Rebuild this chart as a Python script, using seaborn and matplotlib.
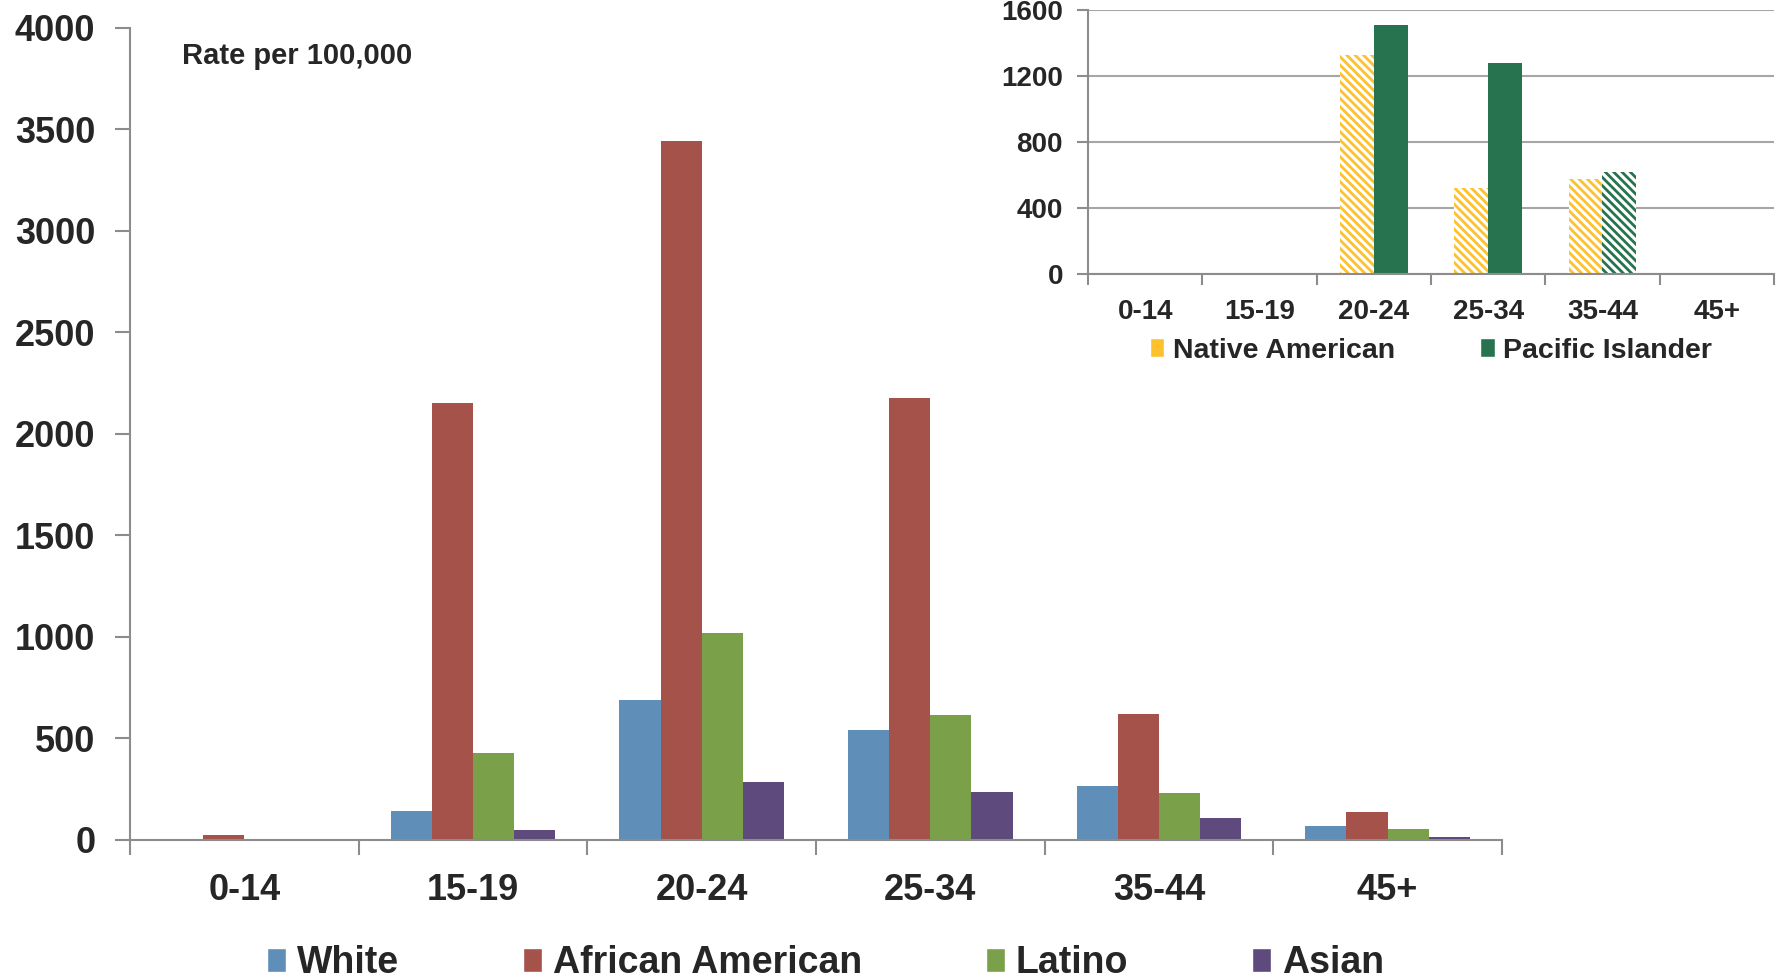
import matplotlib
matplotlib.use("Agg")
import matplotlib.pyplot as plt
from matplotlib.patches import Patch
import numpy as np
import pandas as pd
import seaborn as sns

sns.set_style("white")
plt.rcParams["font.family"] = ["Liberation Sans", "DejaVu Sans"]
plt.rcParams["font.weight"] = "bold"
plt.rcParams["hatch.linewidth"] = 2.0

# %% data
ages = ["0-14", "15-19", "20-24", "25-34", "35-44", "45+"]
white = [2, 145, 687, 542, 268, 67]
african_american = [25, 2150, 3441, 2179, 620, 140]
latino = [4, 430, 1017, 615, 229, 56]
asian = [1, 50, 285, 235, 106, 15]

native_american = [0, 0, 1325, 522, 577, 0]
pacific_islander = [0, 0, 1511, 1277, 618, 0]

main_groups = ["White", "African American", "Latino", "Asian"]
main_colors = ["#5F8FB8", "#A5524A", "#7AA04A", "#5E4A7C"]
inset_groups = ["Native American", "Pacific Islander"]
inset_colors = ["#FDC12E", "#277350"]

df = pd.DataFrame(
    {"age": ages * 4,
     "group": np.repeat(main_groups, len(ages)),
     "rate": white + african_american + latino + asian}
)
df_in = pd.DataFrame(
    {"age": ages * 2,
     "group": np.repeat(inset_groups, len(ages)),
     "rate": native_american + pacific_islander}
)

grey = "#8C8C8C"

fig = plt.figure(figsize=(17.77, 9.8), dpi=100)

# %% main chart
ax = fig.add_axes([0.0732, 0.1429, 0.772, 0.8286])
sns.barplot(data=df, x="age", y="rate", hue="group", palette=main_colors,
            saturation=1, width=0.72, gap=0, linewidth=0, errorbar=None,
            ax=ax, legend=False)
ax.set_ylim(0, 4000)
ax.set_xlim(-0.5, 5.5)
ax.set_yticks(np.arange(0, 4001, 500))
ax.set_xlabel("")
ax.set_ylabel("")
for s in ["top", "right"]:
    ax.spines[s].set_visible(False)
for s in ["left", "bottom"]:
    ax.spines[s].set_color(grey)
    ax.spines[s].set_linewidth(1.5)
ax.tick_params(axis="y", length=11, width=1.5, color=grey, labelsize=26, pad=14, left=True)
ax.tick_params(axis="x", which="major", length=0, labelsize=26, pad=24)
ax.set_xticks(np.arange(-0.5, 6, 1), minor=True)
ax.tick_params(axis="x", which="minor", length=11, width=1.5, color=grey, bottom=True)
for t in ax.get_xticklabels() + ax.get_yticklabels():
    t.set_fontweight("bold")
ax.text(0.038, 0.965, "Rate per 100,000", transform=ax.transAxes, fontsize=21,
        fontweight="bold", va="center", ha="left")

handles = [Patch(facecolor=c, label=g) for c, g in zip(main_colors, main_groups)]
ax.legend(handles=handles, loc="center", bbox_to_anchor=(0.507, -0.152), ncol=4,
          frameon=False, handlelength=0.5, handleheight=0.6,
          handletextpad=0.3, columnspacing=3.3, prop={"weight": "bold", "size": 27})

# %% inset
ax2 = fig.add_axes([0.6123, 0.7204, 0.386, 0.2694])
sns.barplot(data=df_in, x="age", y="rate", hue="group", palette=inset_colors,
            saturation=1, width=0.59, gap=0, linewidth=0, errorbar=None,
            ax=ax2, legend=False)
# Native American bars hatched, Pacific Islander hatched only for 35-44
for bar in ax2.containers[0]:
    bar.set_facecolor("white")
    bar.set_edgecolor(inset_colors[0])
    bar.set_hatch("\\\\\\\\")
pi_bar = ax2.containers[1][ages.index("35-44")]
pi_bar.set_facecolor("white")
pi_bar.set_edgecolor(inset_colors[1])
pi_bar.set_hatch("\\\\\\\\")

ax2.set_ylim(0, 1600)
ax2.set_xlim(-0.5, 5.5)
ax2.set_yticks(np.arange(0, 1601, 400))
ax2.set_xlabel("")
ax2.set_ylabel("")
ax2.yaxis.grid(True, color="#A6A6A6", linewidth=1.5)
ax2.set_axisbelow(True)
ax2.patch.set_alpha(0)
for s in ["top", "right"]:
    ax2.spines[s].set_visible(False)
for s in ["left", "bottom"]:
    ax2.spines[s].set_color(grey)
    ax2.spines[s].set_linewidth(1.5)
ax2.tick_params(axis="y", length=8, width=1.5, color=grey, labelsize=20, pad=10, left=True)
ax2.tick_params(axis="x", which="major", length=0, labelsize=20, pad=18)
ax2.set_xticks(np.arange(-0.5, 6, 1), minor=True)
ax2.tick_params(axis="x", which="minor", length=8, width=1.5, color=grey, bottom=True)
for t in ax2.get_xticklabels() + ax2.get_yticklabels():
    t.set_fontweight("bold")

handles2 = [Patch(facecolor=c, label=g) for c, g in zip(inset_colors, inset_groups)]
ax2.legend(handles=handles2, loc="center", bbox_to_anchor=(0.5, -0.29), ncol=2,
           frameon=False, handlelength=0.5, handleheight=0.6, handletextpad=0.3,
           columnspacing=3.0, prop={"weight": "bold", "size": 20.5})

fig.savefig("out.png", dpi=100)
